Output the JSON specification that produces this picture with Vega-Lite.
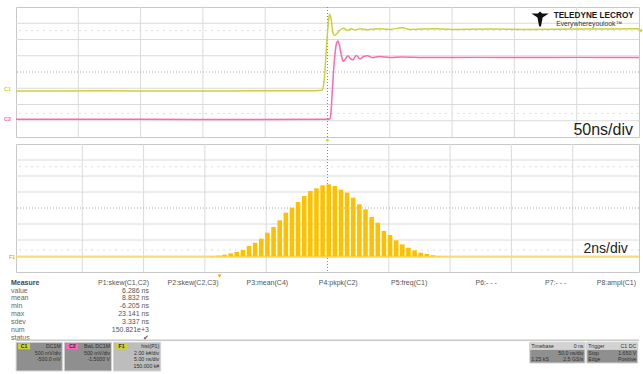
{
  "$schema": "https://vega.github.io/schema/vega-lite/v6.json",
  "padding": {"left": 3, "top": 6, "right": 0, "bottom": 0},
  "bounds": "flush",
  "spacing": 7,
  "background": "white",
  "config": {
    "view": {"stroke": "#c8c8c8", "strokeWidth": 1},
    "font": "Liberation Sans"
  },
  "datasets": {
    "wave": [
      {"ch": "C1", "t": -250, "v": -1.17}, {"ch": "C1", "t": -180, "v": -1.16}, {"ch": "C1", "t": -120, "v": -1.17}, {"ch": "C1", "t": -60, "v": -1.16}, {"ch": "C1", "t": -10, "v": -1.15},
      {"ch": "C1", "t": -4.4, "v": -1.12}, {"ch": "C1", "t": -2.8, "v": -0.6}, {"ch": "C1", "t": -1.6, "v": 0.6}, {"ch": "C1", "t": -0.4, "v": 2.0}, {"ch": "C1", "t": 0.8, "v": 3.1},
      {"ch": "C1", "t": 1.6, "v": 3.55}, {"ch": "C1", "t": 2.8, "v": 3.3}, {"ch": "C1", "t": 4.4, "v": 2.4}, {"ch": "C1", "t": 5.6, "v": 2.25}, {"ch": "C1", "t": 8, "v": 2.4},
      {"ch": "C1", "t": 10.4, "v": 2.6}, {"ch": "C1", "t": 13, "v": 2.7}, {"ch": "C1", "t": 16, "v": 2.55}, {"ch": "C1", "t": 19, "v": 2.66}, {"ch": "C1", "t": 22, "v": 2.58},
      {"ch": "C1", "t": 26, "v": 2.66}, {"ch": "C1", "t": 32, "v": 2.6}, {"ch": "C1", "t": 40, "v": 2.66}, {"ch": "C1", "t": 50, "v": 2.62}, {"ch": "C1", "t": 60, "v": 2.72},
      {"ch": "C1", "t": 66, "v": 2.62}, {"ch": "C1", "t": 85, "v": 2.66}, {"ch": "C1", "t": 100, "v": 2.62}, {"ch": "C1", "t": 130, "v": 2.64}, {"ch": "C1", "t": 160, "v": 2.62},
      {"ch": "C1", "t": 200, "v": 2.64}, {"ch": "C1", "t": 250, "v": 2.66},
      {"ch": "C2", "t": -250, "v": -2.91}, {"ch": "C2", "t": -150, "v": -2.91}, {"ch": "C2", "t": -60, "v": -2.93}, {"ch": "C2", "t": 0, "v": -2.91}, {"ch": "C2", "t": 2.0, "v": -2.88},
      {"ch": "C2", "t": 2.8, "v": -2.5}, {"ch": "C2", "t": 3.6, "v": -1.5}, {"ch": "C2", "t": 4.8, "v": 0}, {"ch": "C2", "t": 6, "v": 1.1}, {"ch": "C2", "t": 7.2, "v": 1.75},
      {"ch": "C2", "t": 8.4, "v": 1.91}, {"ch": "C2", "t": 9.6, "v": 1.65}, {"ch": "C2", "t": 11.2, "v": 1.0}, {"ch": "C2", "t": 12.8, "v": 0.66}, {"ch": "C2", "t": 14.8, "v": 0.85},
      {"ch": "C2", "t": 16.4, "v": 1.0}, {"ch": "C2", "t": 18.4, "v": 0.82}, {"ch": "C2", "t": 20.4, "v": 0.75}, {"ch": "C2", "t": 23, "v": 1.02}, {"ch": "C2", "t": 26, "v": 0.82},
      {"ch": "C2", "t": 29, "v": 0.95}, {"ch": "C2", "t": 32, "v": 1.0}, {"ch": "C2", "t": 36, "v": 0.88}, {"ch": "C2", "t": 42, "v": 0.96}, {"ch": "C2", "t": 50, "v": 0.9},
      {"ch": "C2", "t": 60, "v": 0.93}, {"ch": "C2", "t": 80, "v": 0.89}, {"ch": "C2", "t": 120, "v": 0.9}, {"ch": "C2", "t": 160, "v": 0.89}, {"ch": "C2", "t": 200, "v": 0.9}, {"ch": "C2", "t": 250, "v": 0.9}
    ],
    "hist": [
      {"ns": -0.4, "count": 83}, {"ns": 0.1, "count": 167}, {"ns": 0.6, "count": 292}, {"ns": 1.1, "count": 458}, {"ns": 1.6, "count": 625},
      {"ns": 2.1, "count": 875}, {"ns": 2.6, "count": 1375}, {"ns": 3.1, "count": 1792}, {"ns": 3.6, "count": 2292}, {"ns": 4.1, "count": 3042},
      {"ns": 4.6, "count": 3750}, {"ns": 5.1, "count": 4583}, {"ns": 5.6, "count": 5542}, {"ns": 6.1, "count": 6167}, {"ns": 6.6, "count": 6875},
      {"ns": 7.1, "count": 7625}, {"ns": 7.6, "count": 8250}, {"ns": 8.1, "count": 8583}, {"ns": 8.6, "count": 8958}, {"ns": 9.1, "count": 9083},
      {"ns": 9.6, "count": 8875}, {"ns": 10.1, "count": 8417}, {"ns": 10.6, "count": 8042}, {"ns": 11.1, "count": 7417}, {"ns": 11.6, "count": 6583},
      {"ns": 12.1, "count": 5958}, {"ns": 12.6, "count": 5000}, {"ns": 13.1, "count": 4292}, {"ns": 13.6, "count": 3250}, {"ns": 14.1, "count": 2750},
      {"ns": 14.6, "count": 2083}, {"ns": 15.1, "count": 1583}, {"ns": 15.6, "count": 1167}, {"ns": 16.1, "count": 833}, {"ns": 16.6, "count": 542},
      {"ns": 17.1, "count": 375}, {"ns": 17.6, "count": 208}, {"ns": 18.1, "count": 125}, {"ns": 18.6, "count": 42}
    ],
    "gridA_x": [{"t": -200}, {"t": -150}, {"t": -100}, {"t": -50}, {"t": 50}, {"t": 100}, {"t": 150}, {"t": 200}],
    "gridA_y": [{"v": -3}, {"v": -2}, {"v": -1}, {"v": 1}, {"v": 2}, {"v": 3}],
    "gridB_x": [{"ns": -11}, {"ns": -6}, {"ns": -1}, {"ns": 4}, {"ns": 14}, {"ns": 19}, {"ns": 24}, {"ns": 29}],
    "gridB_y": [{"count": 125}, {"count": 2125}, {"count": 4125}, {"count": 8125}, {"count": 10125}, {"count": 12125}],
    "table": [
      {"col": "label", "row": "header", "text": "Measure"},
      {"col": "label", "row": "value", "text": "value"},
      {"col": "label", "row": "mean", "text": "mean"},
      {"col": "label", "row": "min", "text": "min"},
      {"col": "label", "row": "max", "text": "max"},
      {"col": "label", "row": "sdev", "text": "sdev"},
      {"col": "label", "row": "num", "text": "num"},
      {"col": "label", "row": "status", "text": "status"},
      {"col": "P1", "row": "header", "text": "P1:skew(C1,C2)"},
      {"col": "P2", "row": "header", "text": "P2:skew(C2,C3)"},
      {"col": "P3", "row": "header", "text": "P3:mean(C4)"},
      {"col": "P4", "row": "header", "text": "P4:pkpk(C2)"},
      {"col": "P5", "row": "header", "text": "P5:freq(C1)"},
      {"col": "P6", "row": "header", "text": "P6:- - -"},
      {"col": "P7", "row": "header", "text": "P7:- - -"},
      {"col": "P8", "row": "header", "text": "P8:ampl(C1)"},
      {"col": "P1", "row": "value", "text": "6.286 ns"},
      {"col": "P1", "row": "mean", "text": "8.832 ns"},
      {"col": "P1", "row": "min", "text": "-6.205 ns"},
      {"col": "P1", "row": "max", "text": "23.141 ns"},
      {"col": "P1", "row": "sdev", "text": "3.337 ns"},
      {"col": "P1", "row": "num", "text": "150.821e+3"},
      {"col": "P1", "row": "status", "text": "✔"}
    ],
    "boxes": [
      {"box": "C1", "kind": "chan", "left": -0.08, "right": 0.674, "top": -0.55, "bottom": 3.73, "tag": "C1"},
      {"box": "C2", "kind": "chan", "left": 0.706, "right": 1.477, "top": -0.55, "bottom": 3.73, "tag": "C2"},
      {"box": "F1", "kind": "math", "left": 1.509, "right": 2.279, "top": -0.55, "bottom": 3.73, "tag": "F1"},
      {"box": "Timebase", "kind": "info", "left": 8.30, "right": 9.20, "top": -0.55, "bottom": 2.54, "tag": ""},
      {"box": "Trigger", "kind": "info", "left": 9.23, "right": 10.06, "top": -0.55, "bottom": 2.54, "tag": ""}
    ],
    "boxtext": [
      {"box": "C1", "line": 0, "side": "right", "text": "DC1M"},
      {"box": "C1", "line": 1, "side": "right", "text": "500 mV/div"},
      {"box": "C1", "line": 2, "side": "right", "text": "-500.0 mV"},
      {"box": "C2", "line": 0, "side": "right", "text": "BwL DC1M"},
      {"box": "C2", "line": 1, "side": "right", "text": "500 mV/div"},
      {"box": "C2", "line": 2, "side": "right", "text": "-1.5000 V"},
      {"box": "F1", "line": 0, "side": "right", "text": "hist(P1)"},
      {"box": "F1", "line": 1, "side": "right", "text": "2.00 k#/div"},
      {"box": "F1", "line": 2, "side": "right", "text": "5.00 ns/div"},
      {"box": "F1", "line": 3, "side": "right", "text": "150.000 k#"},
      {"box": "Timebase", "line": 0, "side": "left", "text": "Timebase"},
      {"box": "Timebase", "line": 0, "side": "right", "text": "0 ns"},
      {"box": "Timebase", "line": 1, "side": "right", "text": "50.0 ns/div"},
      {"box": "Timebase", "line": 2, "side": "left", "text": "1.25 kS"},
      {"box": "Timebase", "line": 2, "side": "right", "text": "2.5 GS/s"},
      {"box": "Trigger", "line": 0, "side": "left", "text": "Trigger"},
      {"box": "Trigger", "line": 0, "side": "right", "text": "C1 DC"},
      {"box": "Trigger", "line": 1, "side": "left", "text": "Stop"},
      {"box": "Trigger", "line": 1, "side": "right", "text": "1.650 V"},
      {"box": "Trigger", "line": 2, "side": "left", "text": "Edge"},
      {"box": "Trigger", "line": 2, "side": "right", "text": "Positive"}
    ]
  },
  "vconcat": [
    {
      "width": 623,
      "height": 130,
      "encoding": {
        "x": {"field": "t", "type": "quantitative", "scale": {"domain": [-250, 250], "nice": false, "zero": false}, "axis": null},
        "y": {"field": "v", "type": "quantitative", "scale": {"domain": [-4, 4], "nice": false, "zero": false}, "axis": null}
      },
      "layer": [
        {"data": {"name": "gridA_x"}, "mark": {"type": "rule", "color": "#dadada", "strokeWidth": 1}, "encoding": {"y": null}},
        {"data": {"name": "gridA_y"}, "mark": {"type": "rule", "color": "#dadada", "strokeWidth": 1}, "encoding": {"x": null}},
        {"data": {"values": [{"v": 2.55}, {"v": -2.55}]}, "mark": {"type": "rule", "color": "#dedede", "strokeDash": [2, 4]}, "encoding": {"x": null}},
        {"data": {"values": [{"v": 0}]}, "mark": {"type": "rule", "color": "#a8a8a8", "strokeDash": [1, 2]}, "encoding": {"x": null}},
        {"data": {"values": [{"t": 0}]}, "mark": {"type": "rule", "color": "#8a8a8a", "strokeDash": [1, 2]}, "encoding": {"y": null}},
        {
          "data": {"name": "wave"},
          "mark": {"type": "line", "strokeWidth": 1.5, "interpolate": "monotone"},
          "encoding": {
            "color": {"field": "ch", "type": "nominal", "scale": {"domain": ["C1", "C2"], "range": ["#cdd03c", "#ff68b0"]}, "legend": null},
            "order": {"field": "t", "type": "quantitative"}
          }
        },
        {
          "data": {"values": [{"t": 245.2, "v": -3.88, "label": "50ns/div"}]},
          "mark": {"type": "text", "align": "right", "baseline": "alphabetic", "fontSize": 16, "color": "#222222"},
          "encoding": {"text": {"field": "label"}}
        },
        {
          "data": {"values": [{"t": 170.6, "v": 3.3}]},
          "mark": {"type": "point", "filled": true, "color": "#111111", "opacity": 1, "size": 300, "shape": "M-1,-0.55 L-0.25,-0.55 L0,-0.8 L0.25,-0.55 L1,-0.55 L0.3,-0.1 L0.12,0.85 L0,1 L-0.12,0.85 L-0.3,-0.1 Z"}
        },
        {
          "data": {"values": [{"t": 181.5, "v": 3.42, "label": "TELEDYNE LECROY"}]},
          "mark": {"type": "text", "align": "left", "baseline": "middle", "fontSize": 8.2, "fontWeight": "bold", "color": "#1a1a1a"},
          "encoding": {"text": {"field": "label"}}
        },
        {
          "data": {"values": [{"t": 183.5, "v": 2.98, "label": "Everywhereyoulook™"}]},
          "mark": {"type": "text", "align": "left", "baseline": "middle", "fontSize": 6.8, "color": "#333333"},
          "encoding": {"text": {"field": "label"}}
        },
        {
          "data": {"values": [{"t": -259.6, "v": -1.02, "ch": "C1"}, {"t": -259.6, "v": -2.89, "ch": "C2"}]},
          "mark": {"type": "text", "align": "left", "baseline": "middle", "fontSize": 5.5, "fontWeight": "bold"},
          "encoding": {"text": {"field": "ch"}, "color": {"field": "ch", "type": "nominal", "legend": null}}
        },
        {
          "data": {"values": [{"t": 251.6, "v": 2.55, "ch": "C1"}, {"t": 0, "v": -4.2, "ch": "C1"}]},
          "mark": {"type": "point", "filled": true, "shape": "diamond", "size": 12, "opacity": 1},
          "encoding": {"color": {"field": "ch", "type": "nominal", "legend": null}}
        }
      ]
    },
    {
      "width": 623,
      "height": 128,
      "encoding": {
        "x": {"field": "ns", "type": "quantitative", "scale": {"domain": [-16, 34], "nice": false, "zero": false}, "axis": null},
        "y": {"field": "count", "type": "quantitative", "scale": {"domain": [-1875, 14125], "nice": false, "zero": false}, "axis": null}
      },
      "layer": [
        {"data": {"name": "gridB_x"}, "mark": {"type": "rule", "color": "#dadada", "strokeWidth": 1}, "encoding": {"y": null}},
        {"data": {"name": "gridB_y"}, "mark": {"type": "rule", "color": "#dadada", "strokeWidth": 1}, "encoding": {"x": null}},
        {"data": {"values": [{"count": 11288}, {"count": 875}]}, "mark": {"type": "rule", "color": "#dedede", "strokeDash": [2, 4]}, "encoding": {"x": null}},
        {"data": {"values": [{"count": 6125}]}, "mark": {"type": "rule", "color": "#a8a8a8", "strokeDash": [1, 2]}, "encoding": {"x": null}},
        {"data": {"values": [{"ns": 9}]}, "mark": {"type": "rule", "color": "#8a8a8a", "strokeDash": [1, 2]}, "encoding": {"y": null}},
        {
          "data": {"name": "hist"},
          "mark": {"type": "bar", "width": 4.6, "color": "#ffc000"}
        },
        {"data": {"values": [{"count": 0}]}, "mark": {"type": "rule", "color": "#ffd84d", "strokeWidth": 1.5}, "encoding": {"x": null}},
        {
          "data": {"values": [{"ns": 33.5, "count": 450, "label": "2ns/div"}]},
          "mark": {"type": "text", "align": "right", "baseline": "alphabetic", "fontSize": 14, "color": "#222222"},
          "encoding": {"text": {"field": "label"}}
        },
        {
          "data": {"values": [{"ns": -16.96, "count": 0, "label": "F1"}]},
          "mark": {"type": "text", "align": "left", "baseline": "middle", "fontSize": 5, "fontWeight": "bold", "color": "#e8b000"},
          "encoding": {"text": {"field": "label"}}
        }
      ]
    },
    {
      "width": 623,
      "height": 95,
      "view": {"stroke": null},
      "layer": [
        {
          "data": {"name": "table"},
          "encoding": {
            "x": {"field": "col", "type": "nominal", "scale": {"type": "point", "domain": ["label", "P1", "P2", "P3", "P4", "P5", "P6", "P7", "P8"], "padding": 0.477, "align": 0.955}, "axis": null},
            "y": {"field": "row", "type": "nominal", "scale": {"type": "point", "domain": ["header", "value", "mean", "min", "max", "sdev", "num", "status"], "range": [3.7, 58.7], "padding": 0}, "axis": null},
            "text": {"field": "text"}
          },
          "layer": [
            {
              "transform": [{"filter": "datum.col === 'label' && datum.row === 'header'"}],
              "mark": {"type": "text", "align": "left", "baseline": "middle", "dx": -68.4, "fontSize": 7, "fontWeight": "bold", "color": "#444444"}
            },
            {
              "transform": [{"filter": "datum.col === 'label' && datum.row !== 'header'"}],
              "mark": {"type": "text", "align": "left", "baseline": "middle", "dx": -68.4, "fontSize": 7, "color": "#666666"}
            },
            {
              "transform": [{"filter": "datum.col !== 'label'"}],
              "mark": {"type": "text", "align": "right", "baseline": "middle", "fontSize": 7, "color": "#555555"}
            },
            {
              "transform": [{"filter": "datum.col === 'P2' && datum.row === 'header'"}],
              "mark": {"type": "point", "shape": "triangle-down", "filled": true, "size": 14, "color": "#ffa500", "opacity": 1, "yOffset": -6.5, "xOffset": 1}
            }
          ]
        },
        {
          "encoding": {
            "y": {"type": "quantitative", "scale": {"domain": [-10, 4.179], "nice": false, "zero": false, "reverse": true}, "axis": null},
            "x": {"type": "quantitative", "scale": {"domain": [0, 10], "nice": false, "zero": false}, "axis": null}
          },
          "layer": [
            {"data": {"values": [{"line": -0.85}]}, "mark": {"type": "rule", "color": "#c8c8c8", "strokeWidth": 1.5}, "encoding": {"y": {"field": "line"}}},
            {
              "data": {"name": "boxes"},
              "mark": {"type": "rect", "stroke": "#d4d4d4", "strokeWidth": 1},
              "encoding": {
                "x": {"field": "left", "type": "quantitative"},
                "x2": {"field": "right"},
                "y": {"field": "top", "type": "quantitative"},
                "y2": {"field": "bottom"},
                "fill": {"field": "kind", "type": "nominal", "scale": {"domain": ["chan", "math", "info"], "range": ["#8f8f8f", "#bdbdbd", "#8f8f8f"]}, "legend": null}
              }
            },
            {
              "data": {"name": "boxes"},
              "transform": [{"filter": "datum.kind === 'info'"}],
              "mark": {"type": "rect", "fill": "#d3d3d3", "stroke": "#d4d4d4", "strokeWidth": 1},
              "encoding": {
                "x": {"field": "left", "type": "quantitative"},
                "x2": {"field": "right"},
                "y": {"field": "top", "type": "quantitative"},
                "y2": {"datum": 0.5}
              }
            },
            {
              "data": {"name": "boxes"},
              "transform": [{"filter": "datum.kind !== 'info'"}],
              "mark": {"type": "bar", "width": 12, "height": 6, "xOffset": 8},
              "encoding": {
                "x": {"field": "left", "type": "quantitative"},
                "y": {"datum": 0.05},
                "color": {"field": "tag", "type": "nominal", "scale": {"domain": ["C1", "C2", "F1"], "range": ["#d6d62a", "#e9168c", "#ffc20e"]}, "legend": null}
              }
            },
            {
              "data": {"name": "boxes"},
              "transform": [{"filter": "datum.kind !== 'info'"}],
              "mark": {"type": "text", "align": "center", "baseline": "middle", "dx": 8, "fontSize": 5.2, "fontWeight": "bold", "color": "#2a2a2a"},
              "encoding": {
                "x": {"field": "left", "type": "quantitative"},
                "y": {"datum": 0.05},
                "text": {"field": "tag"}
              }
            },
            {
              "data": {"name": "boxtext"},
              "transform": [
                {"lookup": "box", "from": {"data": {"name": "boxes"}, "key": "box", "fields": ["left", "right"]}},
                {"filter": "datum.side === 'right'"}
              ],
              "mark": {"type": "text", "align": "right", "baseline": "middle", "dx": -1.5, "fontSize": 5.2, "color": "#2f2f2f"},
              "encoding": {
                "x": {"field": "right", "type": "quantitative"},
                "y": {"field": "line", "type": "quantitative"},
                "text": {"field": "text"}
              }
            },
            {
              "data": {"name": "boxtext"},
              "transform": [
                {"lookup": "box", "from": {"data": {"name": "boxes"}, "key": "box", "fields": ["left", "right"]}},
                {"filter": "datum.side === 'left'"}
              ],
              "mark": {"type": "text", "align": "left", "baseline": "middle", "dx": 1.5, "fontSize": 5.2, "color": "#2f2f2f"},
              "encoding": {
                "x": {"field": "left", "type": "quantitative"},
                "y": {"field": "line", "type": "quantitative"},
                "text": {"field": "text"}
              }
            }
          ]
        }
      ],
      "resolve": {"scale": {"x": "independent", "y": "independent"}}
    }
  ]
}
